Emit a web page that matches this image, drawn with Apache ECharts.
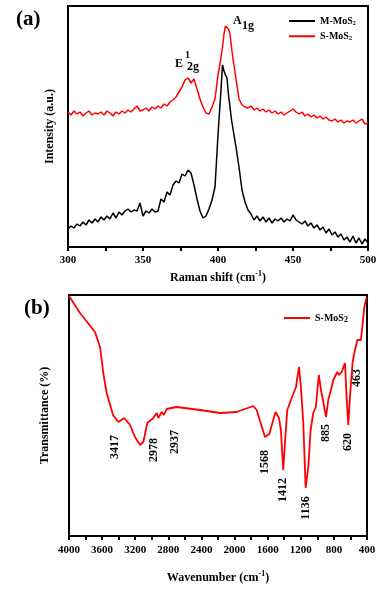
<!DOCTYPE html>
<html><head><meta charset="utf-8">
<script src="https://cdn.jsdelivr.net/npm/echarts@6/dist/echarts.min.js"></script>
<style>html,body{margin:0;padding:0;background:#fff}#c{width:385px;height:596px}</style>
</head><body><div id="c"></div>
<script>
// ---------- Panel (a): Raman ----------
const ramanShift = [300,302,304,306,308,310,312,314,316,318,
  320,322,324,326,328,330,332,334,336,338,
  340,342,344,346,348,350,352,354,356,358,
  360,362,364,366,368,370,372,374,376,378,
  380,382,384,386,388,390,392,394,396,398,
  400,401,402,403,404,405,406,407,408,409,
  410,412,414,416,418,420,422,424,426,428,
  430,432,434,436,438,440,442,444,446,448,
  450,452,454,456,458,460,462,464,466,468,
  470,472,474,476,478,480,482,484,486,488,
  490,492,494,496,498,500];
const mMoS2 = [18,21,19,23,21,25,22,27,24,28,
  25,30,27,31,28,34,29,35,32,36,
  38,35,37,36,44,31,36,34,38,35,
  36,48,45,55,52,62,66,64,73,71,
  77,74,62,48,36,29,31,38,47,60,
  112,135,157,182,176,172,169,152,140,127,
  118,100,80,57,45,37,33,27,31,26,
  30,25,29,24,28,26,29,25,28,26,
  32,27,25,23,26,21,24,19,22,17,
  20,14,18,12,15,10,13,7,10,5,
  11,4,9,3,8,4];
const sMoS2 = [135,132,136,133,135,131,134,136,132,134,
  133,135,132,136,134,131,135,133,136,134,
  137,135,138,141,136,137,139,136,140,138,
  141,139,143,141,145,147,150,155,160,167,
  169,164,168,158,148,140,134,133,140,148,
  172,180,190,200,213,221,222,218,213,200,
  188,168,148,142,140,139,141,137,139,136,
  138,135,137,134,136,133,135,132,134,136,
  138,135,133,135,131,133,130,132,129,131,
  128,130,127,126,128,125,127,124,126,125,
  127,124,126,128,123,124];
const ramanLabelTicks = [300,350,400,450,500];

// ---------- Panel (b): FTIR ----------
const wavenumber = [4000,3867,3686,3625,3586,3545,3468,3404,3332,3263,
  3203,3142,3102,3054,2981,2941,2921,2880,2853,2821,
  2700,2418,2176,1975,1774,1733,1685,1632,1580,1540,
  1504,1464,1440,1412,1383,1363,1310,1258,1222,1198,
  1170,1141,1109,1081,1049,1018,982,956,928,895,
  868,836,807,759,735,706,666,645,626,606,
  574,545,517,493,473,452,432,404];
const transmittance = [240,223,204,189,163,143,121,114,118,111,
  99,91,94,113,118,123,118,124,121,127,
  129,126,123,124,130,126,113,99,102,114,
  124,118,106,66,103,126,138,149,169,149,
  113,48,69,106,123,129,161,146,134,119,
  136,146,156,164,161,164,173,136,111,139,
  174,186,196,198,196,213,229,239];
const ftirLabelTicks = [4000,3600,3200,2800,2400,2000,1600,1200,800,400];
const peakLabels = ['3417','2978','2937','1568','1412','1136','885','620','463'];

const FF = "'Liberation Serif','Times New Roman',serif";
const zip = (xs, ys) => xs.map((x, i) => [x, ys[i]]);

const peakPos = [[115,447],[154,450],[175,442],[265,462],[283,490],[306,508],[326,433],[348,442],[357,378]];

const chart = echarts.init(document.getElementById('c'), null, {renderer:'canvas'});
const axisLine = {show:true, lineStyle:{color:'#000', width:2}};
const legRich = (fs, ss) => ({
  n:{fontFamily:FF, fontWeight:'bold', fontSize:fs, color:'#000'},
  s:{fontFamily:FF, fontWeight:'bold', fontSize:ss, color:'#000', padding:[fs*0.45,0,0,0]}
});
const opt = {
  backgroundColor:'#fff',
  animation:false,
  grid:[
    {left:68, right:17, top:6, height:241, show:true, borderColor:'#000', borderWidth:2, backgroundColor:'transparent'},
    {left:69, right:18, top:295, height:241, show:true, borderColor:'#000', borderWidth:2, backgroundColor:'transparent'}
  ],
  xAxis:[
    {type:'value', gridIndex:0, min:300, max:500, interval:25,
     axisLine, axisTick:{show:true, length:4, lineStyle:{width:2,color:'#000'}},
     splitLine:{show:false},
     axisLabel:{margin:8, fontFamily:FF, fontWeight:'bold', fontSize:11, color:'#000',
       formatter:v => ramanLabelTicks.includes(v) ? String(v) : ''},
     name:'{t|Raman shift (cm}{p|-1}{t|)}', nameLocation:'middle', nameGap:23,
     nameTextStyle:{rich:{t:{fontFamily:FF,fontWeight:'bold',fontSize:12,color:'#000'},
       p:{fontFamily:FF,fontWeight:'bold',fontSize:8,color:'#000',padding:[0,0,8,0]}}}},
    {type:'value', gridIndex:1, min:400, max:4000, interval:200, inverse:true,
     axisLine, axisTick:{show:true, length:4, lineStyle:{width:2,color:'#000'}},
     splitLine:{show:false},
     axisLabel:{margin:9, fontFamily:FF, fontWeight:'bold', fontSize:11, color:'#000',
       formatter:v => ftirLabelTicks.includes(v) ? String(v) : ''},
     name:'{t|Wavenumber (cm}{p|-1}{t|)}', nameLocation:'middle', nameGap:34,
     nameTextStyle:{rich:{t:{fontFamily:FF,fontWeight:'bold',fontSize:12,color:'#000'},
       p:{fontFamily:FF,fontWeight:'bold',fontSize:8,color:'#000',padding:[0,0,8,0]}}}}
  ],
  yAxis:[
    {type:'value', gridIndex:0, min:0, max:241, axisLine, axisTick:{show:false},
     axisLabel:{show:false}, splitLine:{show:false},
     name:'Intensity (a.u.)', nameLocation:'middle', nameGap:12,
     nameTextStyle:{fontFamily:FF,fontWeight:'bold',fontSize:12,color:'#000'}},
    {type:'value', gridIndex:1, min:0, max:241, axisLine, axisTick:{show:false},
     axisLabel:{show:false}, splitLine:{show:false},
     name:'Transmittance (%)', nameLocation:'middle', nameGap:18,
     nameTextStyle:{fontFamily:FF,fontWeight:'bold',fontSize:12,color:'#000'}}
  ],
  legend:[
    {data:['M-MoS2','S-MoS2'], orient:'vertical', left:284, top:11, itemGap:5,
     icon:'rect', itemWidth:26, itemHeight:2, selectedMode:false,
     formatter:n => n.startsWith('M') ? '{n|M-MoS}{s|2}' : '{n|S-MoS}{s|2}',
     textStyle:{rich:legRich(10,6)}},
    {data:['S-MoS2 FTIR'], orient:'vertical', left:279, top:308,
     icon:'rect', itemWidth:26, itemHeight:2, selectedMode:false,
     formatter:() => '{n|S-MoS}{s|2}',
     textStyle:{rich:legRich(10,8)}}
  ],
  series:[
    {name:'M-MoS2', type:'line', xAxisIndex:0, yAxisIndex:0, data:zip(ramanShift, mMoS2),
     showSymbol:false, symbol:'none', lineStyle:{color:'#000', width:1.5}, itemStyle:{color:'#000'}},
    {name:'S-MoS2', type:'line', xAxisIndex:0, yAxisIndex:0, data:zip(ramanShift, sMoS2),
     showSymbol:false, symbol:'none', lineStyle:{color:'#f00', width:1.5}, itemStyle:{color:'#f00'}},
    {name:'S-MoS2 FTIR', type:'line', xAxisIndex:1, yAxisIndex:1, data:zip(wavenumber, transmittance),
     showSymbol:false, symbol:'none', lineStyle:{color:'#f00', width:1.8}, itemStyle:{color:'#f00'}}
  ],
  graphic:[
    {type:'text', left:16, top:9, style:{text:'(a)', font:"bold 21px 'Liberation Serif', serif", fill:'#000'}},
    {type:'text', left:24, top:298, style:{text:'(b)', font:"bold 21px 'Liberation Serif', serif", fill:'#000'}},
    {type:'text', x:175, y:64, style:{text:'E', font:"bold 12px 'Liberation Serif', serif", fill:'#000', verticalAlign:'middle'}},
    {type:'text', x:185, y:55, style:{text:'1', font:"bold 10px 'Liberation Serif', serif", fill:'#000', verticalAlign:'middle'}},
    {type:'text', x:187, y:67, style:{text:'2g', font:"bold 12px 'Liberation Serif', serif", fill:'#000', verticalAlign:'middle'}},
    {type:'text', x:233, y:21, style:{text:'A', font:"bold 12px 'Liberation Serif', serif", fill:'#000', verticalAlign:'middle'}},
    {type:'text', x:242, y:26, style:{text:'1g', font:"bold 12px 'Liberation Serif', serif", fill:'#000', verticalAlign:'middle'}}
  ].concat(peakLabels.map((t, i) => ({
    type:'text', x:peakPos[i][0], y:peakPos[i][1], rotation:Math.PI/2,
    style:{text:t, font:"bold 12px 'Liberation Serif', serif", fill:'#000', align:'center', verticalAlign:'middle'}
  })))
};
chart.setOption(opt);
</script></body></html>
